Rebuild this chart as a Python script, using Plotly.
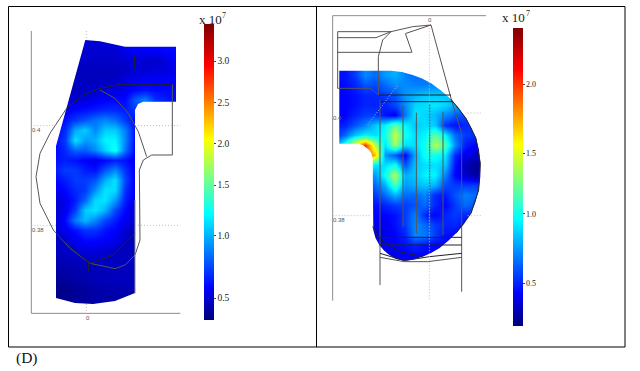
import numpy as np
import plotly.graph_objects as go

SERIF = "Liberation Serif"

# ---------- colour scale (MATLAB style jet) ----------
JET = [[0, "rgb(0,0,120)"], [0.11, "rgb(0,0,255)"], [0.36, "rgb(0,255,255)"],
       [0.61, "rgb(255,255,0)"], [0.86, "rgb(255,0,0)"], [1, "rgb(128,0,0)"]]

# ---------- left panel: field values (x 10^7) ----------
left_x = [55, 65, 75, 85, 95, 105, 115, 125, 135, 145, 155, 165, 175]
left_y = [40, 50, 60, 70, 80, 90, 100, 110, 120, 130, 140, 150, 160, 170, 180,
          190, 200, 210, 220, 230, 240, 250, 260, 270, 280, 290, 300, 310]
left_z = [
    [.50, .50, .50, .50, .50, .50, .50, .55, .58, .58, .58, .60, .60],
    [.55, .50, .50, .50, .50, .50, .50, .55, .58, .58, .58, .60, .60],
    [.50, .50, .48, .48, .48, .48, .48, .50, .52, .50, .48, .52, .58],
    [.48, .46, .46, .46, .46, .46, .46, .48, .50, .50, .52, .52, .55],
    [.46, .46, .46, .46, .46, .46, .48, .52, .55, .58, .58, .58, .58],
    [.46, .46, .46, .48, .50, .50, .52, .55, .60, .62, .60, .60, .60],
    [.50, .50, .50, .52, .55, .58, .60, .60, .80, .90, .70, .65, .60],
    [.55, .55, .60, .62, .65, .68, .68, .65, .70, .60, .60, .60, .60],
    [.60, .62, .72, .78, .85, .90, .85, .72, .60, .60, .60, .60, .60],
    [.60, .68, .98, 1.08, .90, 1.08, 1.08, .88, .60, .60, .60, .60, .60],
    [.60, .72, 1.15, .95, 1.0, 1.2, 1.2, .90, .60, .60, .60, .60, .60],
    [.60, .68, .82, .80, .90, 1.1, 1.28, .85, .58, .58, .58, .58, .58],
    [.62, .65, .62, .58, .55, .60, .65, .62, .55, .55, .55, .55, .55],
    [.65, .72, .72, .65, .62, .78, .90, .70, .55, .55, .55, .55, .55],
    [.60, .65, .72, .72, .78, 1.0, 1.15, .75, .55, .55, .55, .55, .55],
    [.55, .60, .68, .72, .92, 1.15, 1.12, .70, .55, .55, .55, .55, .55],
    [.50, .55, .65, .82, 1.12, 1.15, .95, .65, .55, .55, .55, .55, .55],
    [.50, .55, .72, 1.08, 1.15, 1.0, .75, .60, .50, .50, .50, .50, .50],
    [.50, .60, .88, 1.02, .90, .75, .65, .55, .50, .50, .50, .50, .50],
    [.50, .55, .62, .70, .70, .62, .58, .50, .45, .45, .45, .45, .45],
    [.48, .50, .55, .60, .60, .58, .55, .48, .45, .45, .45, .45, .45],
    [.46, .48, .50, .52, .52, .50, .48, .46, .45, .45, .45, .45, .45],
    [.44, .45, .46, .47, .47, .47, .46, .46, .46, .46, .46, .46, .46],
    [.42, .42, .43, .44, .45, .45, .46, .46, .46, .46, .46, .46, .46],
    [.38, .40, .42, .43, .45, .45, .46, .46, .46, .46, .46, .46, .46],
    [.36, .36, .38, .40, .42, .43, .43, .43, .45, .45, .45, .45, .45],
    [.38, .38, .40, .40, .42, .42, .42, .42, .42, .42, .42, .42, .42],
    [.38, .38, .40, .40, .42, .42, .42, .42, .42, .42, .42, .42, .42],
]

# ---------- right panel: field values (x 10^7) ----------
right_x = [335, 345, 355, 365, 375, 385, 395, 405, 415, 425, 435, 445, 455, 465, 475, 485]
right_y = [65, 75, 85, 95, 105, 115, 125, 135, 145, 155, 165, 175, 185, 195, 205,
           215, 225, 235, 245, 255, 265]
right_z = [
    [.45, .45, .55, .72, .65, .75, .80, .70, .65, .65, .65, .65, .65, .65, .65, .65],
    [.45, .45, .55, .72, .65, .75, .80, .70, .65, .65, .65, .65, .65, .65, .65, .65],
    [.40, .45, .50, .60, .58, .65, .72, .72, .70, .70, .72, .72, .72, .72, .72, .72],
    [.40, .42, .45, .50, .50, .55, .60, .75, .80, .85, .85, .85, .80, .75, .75, .75],
    [.40, .42, .45, .50, .50, .50, .58, .72, .88, .90, .92, .88, .80, .72, .72, .72],
    [.40, .42, .50, .55, .55, .45, .40, .68, .92, .88, .82, .72, .62, .58, .55, .55],
    [.45, .50, .60, .70, .85, .95, 1.2, .95, .85, .90, .85, .52, .45, .50, .55, .55],
    [.50, .65, .85, .95, .90, 1.0, 1.45, 1.0, .90, .95, 1.2, .95, .65, .55, .52, .52],
    [.70, 1.1, 1.6, 2.0, 1.4, .90, 1.35, .90, .90, 1.0, 1.4, 1.15, .72, .48, .42, .42],
    [.80, .90, 1.2, 1.95, 1.7, .75, .60, .42, .80, 1.0, 1.0, .92, .50, .38, .32, .32],
    [.80, .90, 1.1, 1.3, .90, .90, 1.0, .60, .85, .90, .90, .85, .45, .28, .20, .22],
    [.80, .80, .80, .75, .75, 1.0, 1.4, .80, .85, .95, .95, .70, .42, .32, .22, .28],
    [.60, .60, .60, .55, .65, .80, 1.15, .75, .80, .85, .80, .58, .55, .55, .55, .55],
    [.55, .55, .55, .50, .55, .65, .80, .65, .65, .70, .50, .48, .60, .70, .65, .55],
    [.50, .50, .50, .45, .45, .50, .55, .55, .60, .65, .50, .42, .55, .65, .60, .60],
    [.40, .40, .40, .40, .42, .42, .45, .55, .70, .50, .42, .50, .55, .50, .50, .50],
    [.40, .40, .40, .40, .38, .38, .45, .55, .72, .65, .55, .50, .50, .45, .45, .45],
    [.35, .35, .35, .35, .32, .38, .42, .50, .72, .68, .55, .45, .42, .42, .42, .42],
    [.40, .40, .40, .40, .38, .42, .42, .45, .50, .45, .42, .42, .42, .42, .42, .42],
    [.35, .35, .35, .35, .32, .32, .38, .40, .42, .42, .42, .42, .42, .42, .42, .42],
    [.35, .35, .35, .35, .32, .32, .38, .40, .42, .42, .42, .42, .42, .42, .42, .42],
]

# ---------- colour bars ----------
left_tick_values = [0.33, 0.5, 1.0, 1.5, 2.0, 2.5, 3.0, 3.4]
left_tick_pos = [0.0, 0.074, 0.284, 0.456, 0.595, 0.734, 0.875, 1.0]
left_tick_labels = ["0.5", "1.0", "1.5", "2.0", "2.5", "3.0"]
right_tick_values = [0.15, 0.5, 1.0, 1.5, 2.0, 2.4]
right_tick_pos = [0.0, 0.144, 0.376, 0.58, 0.812, 1.0]
right_tick_labels = ["0.5", "1.0", "1.5", "2.0"]

# ---------- outlines ----------
left_field_x = [85.3, 100, 125, 176, 176, 143, 138, 135, 135, 115, 93, 75, 56, 56]
left_field_y = [40, 41.3, 46.7, 46.7, 101.7, 101.7, 104, 110, 293, 301, 304, 303, 298, 146]
right_field_x = [339.3, 391, 402, 412.7, 422, 431, 441, 451, 459, 466, 471.5, 476, 479, 480.3,
                 480.3, 478.7, 475.5, 471, 464, 456, 448, 439.3, 431, 422.7, 413, 404.3, 396,
                 389.3, 384, 379.3, 375.5, 373.3, 372.7, 371.5, 369.3, 366.5, 362.7, 357.7, 339.3]
right_field_y = [70.7, 70.7, 72, 75, 78.5, 83.3, 90.5, 99.3, 108, 118.3, 128, 138.3, 150, 163.3,
                 177, 190, 202, 213.3, 224, 233.3, 241, 248.3, 253, 256.7, 259.5, 260.7, 259,
                 255, 250.5, 245, 238, 230, 158.3, 153.5, 150, 147.5, 145, 143.7, 143.7]

GREY = "#8c8c8c"
DARK = "#222222"
MID = "#555555"
left_lines = [
    (GREY, [94, 94, 541], [93, 940, 940]),
    (MID, [517, 517, 455, 430, 418, 420, 405, 375, 345, 270, 210, 160, 120, 108, 120, 150, 200],
     [253, 465, 465, 480, 510, 720, 765, 795, 806, 790, 745, 690, 610, 530, 460, 400, 325]),
    (DARK, [200, 250, 300, 360, 517], [325, 285, 265, 253, 253]),
    (MID, [300, 345, 385, 415, 440], [270, 295, 340, 395, 470]),
    (DARK, [168, 215, 270, 340, 405], [700, 745, 790, 765, 700]),
    (DARK, [265, 265], [790, 815]),
    (GREY, [405, 405], [600, 880]),
    (DARK, [403, 405], [165, 210]),
]
left_dots = [
    ([259, 259], [93, 120]), ([259, 259], [912, 940]),
    ([94, 168], [377, 377]), ([405, 541], [377, 377]),
    ([94, 168], [676, 676]), ([405, 541], [676, 676]),
]
right_lines = [
    (GREY, [50, 50], [47, 902]), (GREY, [50, 510], [47, 47]),
    (MID, [65, 65, 165, 187], [95, 265, 265, 285]),
    (MID, [65, 225, 290, 345], [95, 95, 80, 75]),
    (MID, [65, 180, 225], [113, 113, 95]),
    (MID, [65, 287], [157, 157]),
    (MID, [225, 200, 187, 187], [95, 120, 170, 285]),
    (MID, [268, 288], [100, 157]),
    (MID, [270, 345], [100, 75]),
    (MID, [345, 405, 437, 437], [75, 295, 400, 875]),
    (MID, [192, 192], [300, 855]),
    (DARK, [190, 405], [285, 285]),
    (DARK, [192, 410], [305, 305]),
    (MID, [261, 261], [318, 680]), (MID, [301, 301], [338, 700]),
    (MID, [341, 341], [313, 688]), (MID, [381, 381], [335, 705]),
    (DARK, [190, 437], [712, 712]), (DARK, [190, 437], [735, 735]),
    (DARK, [192, 265, 340, 437], [760, 782, 770, 760]),
    (MID, [192, 265, 335, 437], [772, 785, 785, 772]),
    (DARK, [170, 190, 250, 320], [680, 715, 755, 770]),
    (DARK, [405, 450, 480, 493, 488, 465, 420],
     [298, 355, 415, 490, 570, 640, 700]),
]
right_dots = [
    ([340, 340], [85, 900]), ([455, 500], [339, 339]),
    ([50, 165], [647, 647]), ([455, 500], [647, 647]),
    ([155, 245], [375, 255]),
]
frame_x = [8.5, 316.5, 625]
frame_y = [6.5, 347]


def bar(x_px, y0, y1, tickv, tickp, labels, size):
    return dict(
        x=x_px / 640, xanchor="left", xpad=0, thickness=10, thicknessmode="pixels",
        len=(y1 - y0) / 371, lenmode="fraction", y=1 - (y0 + y1) / 2 / 371,
        yanchor="middle", ypad=0, outlinewidth=0,
        tickmode="array", tickvals=list(np.interp([float(t) for t in labels], tickv, tickp)),
        ticktext=labels, ticks="outside", ticklen=2, tickcolor="#444444",
        tickfont=dict(family=SERIF, size=size, color="#222222"),
    )


def to_pos(z, vals, pos):
    return np.interp(np.array(z), vals, pos)


def hole(xs, ys, rect):
    x0, x1, y0, y1 = rect
    return ([x0, x0, x1, x1, x0, None] + list(xs) + [xs[0]],
            [y0, y1, y1, y0, y0, None] + list(ys) + [ys[0]])


fig = go.Figure()
fig.add_trace(go.Heatmap(
    x=left_x, y=left_y, z=to_pos(left_z, left_tick_values, left_tick_pos), zmin=0, zmax=1,
    zsmooth="best", colorscale=JET,
    colorbar=bar(203.5, 24, 320, left_tick_values, left_tick_pos, left_tick_labels, 9.5),
))
fig.add_trace(go.Heatmap(
    x=right_x, y=right_y, z=to_pos(right_z, right_tick_values, right_tick_pos), zmin=0, zmax=1,
    zsmooth="best", colorscale=JET,
    colorbar=bar(512.5, 28, 326, right_tick_values, right_tick_pos, right_tick_labels, 8),
))
for xs, ys, rect in [(left_field_x, left_field_y, (50, 182, 35, 315)),
                     (right_field_x, right_field_y, (330, 490, 60, 270))]:
    hx, hy = hole(xs, ys, rect)
    fig.add_trace(go.Scatter(x=hx, y=hy, mode="lines", fill="toself", fillcolor="white",
                             line=dict(width=0), hoverinfo="skip", showlegend=False))

for col, xs, ys in left_lines:
    fig.add_trace(go.Scatter(x=[v / 3 for v in xs], y=[v / 3 for v in ys], mode="lines",
                             line=dict(color=col, width=1), showlegend=False))
for col, xs, ys in right_lines:
    fig.add_trace(go.Scatter(x=[316 + v / 3 for v in xs], y=[v / 3 for v in ys], mode="lines",
                             line=dict(color=col, width=1), showlegend=False))
for xs, ys in left_dots:
    fig.add_trace(go.Scatter(x=[v / 3 for v in xs], y=[v / 3 for v in ys], mode="lines",
                             line=dict(color="#bbbbbb", width=1, dash="1px,2px"), showlegend=False))
for xs, ys in right_dots:
    fig.add_trace(go.Scatter(x=[316 + v / 3 for v in xs], y=[v / 3 for v in ys], mode="lines",
                             line=dict(color="#bbbbbb", width=1, dash="1px,2px"), showlegend=False))

fig.add_trace(go.Scatter(
    x=[frame_x[0], frame_x[2], frame_x[2], frame_x[0], frame_x[0], None, frame_x[1], frame_x[1]],
    y=[frame_y[0], frame_y[0], frame_y[1], frame_y[1], frame_y[0], None, frame_y[0], frame_y[1]],
    mode="lines", line=dict(color="black", width=1), showlegend=False))

texts = [
    (31.5, 130, "0.4", 6, "left", "Liberation Sans", "#555555"),
    (31.5, 230, "0.38", 6, "left", "Liberation Sans", "#555555"),
    (87.5, 318, "0", 6, "center", "Liberation Sans", "#555555"),
    (332.5, 117.5, "0.4", 6, "left", "Liberation Sans", "#555555"),
    (332.5, 220, "0.38", 6, "left", "Liberation Sans", "#555555"),
    (430, 20, "0", 6, "center", "Liberation Sans", "#555555"),
    (199, 19, "x 10", 13, "left", SERIF, "#222222"),
    (222, 15.5, "7", 8, "left", SERIF, "#222222"),
    (502, 17, "x 10", 13, "left", SERIF, "#222222"),
    (526, 13.5, "7", 8, "left", SERIF, "#222222"),
    (16, 358, "(D)", 15.5, "left", SERIF, "#111111"),
]
for x, y, t, s, a, fam, col in texts:
    fig.add_annotation(x=x, y=y, text=t, showarrow=False, xanchor=a, yanchor="middle",
                       font=dict(family=fam, size=s, color=col), xref="x", yref="y",
                       borderpad=0, borderwidth=0)

fig.update_layout(
    width=640, height=371, margin=dict(l=0, r=0, t=0, b=0),
    paper_bgcolor="white", plot_bgcolor="white", showlegend=False,
    xaxis=dict(range=[0, 640], visible=False, fixedrange=True),
    yaxis=dict(range=[371, 0], visible=False, fixedrange=True),
)
fig.write_html("out.html", config={"displayModeBar": False},
               post_script="document.body.style.margin='0';document.documentElement.style.overflow='hidden';")
